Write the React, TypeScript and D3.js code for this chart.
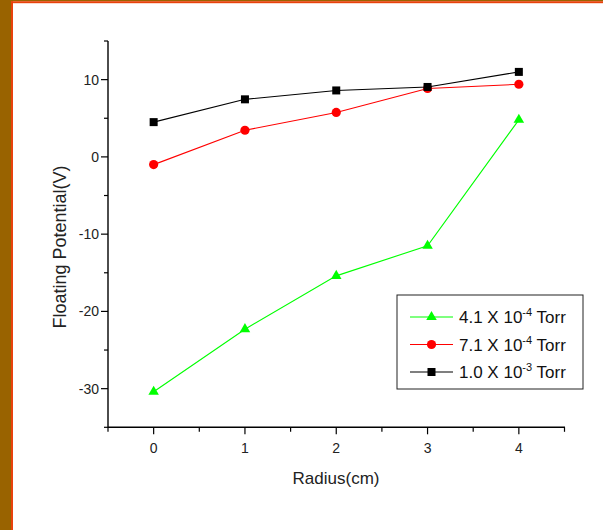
import React from "react";
import * as d3 from "d3";

// radius positions (cm)
const radius = [0, 1, 2, 3, 4];

// floating potential (V) for each pressure
const lowPressure = [-30.4, -22.3, -15.4, -11.5, 4.8]; // 4.1 x 10^-4 Torr
const midPressure = [-1.0, 3.45, 5.75, 8.85, 9.4]; // 7.1 x 10^-4 Torr
const highPressure = [4.5, 7.45, 8.6, 9.05, 11.0]; // 1.0 x 10^-3 Torr

const xTicks = [0, 1, 2, 3, 4];
const xMinorTicks = [-0.5, 0.5, 1.5, 2.5, 3.5, 4.5];
const yTicks = [-30, -20, -10, 0, 10];
const yMinorTicks = [-35, -25, -15, -5, 5, 15];

const series = [
    {mantissa: "4.1", exp: "-4", values: lowPressure, color: "#00ff00", marker: "triangle"},
    {mantissa: "7.1", exp: "-4", values: midPressure, color: "#ff0000", marker: "circle"},
    {mantissa: "1.0", exp: "-3", values: highPressure, color: "#000000", marker: "square"},
];

const W = 603;
const H = 530;
const font = "'Liberation Sans', Arial, sans-serif";

function Marker({kind, x, y, color}: {kind: string; x: number; y: number; color: string})
{
    if (kind === "circle") return <circle cx={x} cy={y} r={4.6} fill={color}/>;
    if (kind === "square") return <rect x={x - 4} y={y - 4} width={8} height={8} fill={color}/>;
    const sym = d3.symbol().type(d3.symbolTriangle).size(48)();
    return <path d={sym || ""} transform={`translate(${x},${y})`} fill={color}/>;
}

export default function App()
{
    const xScale = d3.scaleLinear().domain([-0.5, 4.5]).range([108, 564.5]);
    const yScale = d3.scaleLinear().domain([-35, 15]).range([427.3, 41]);
    const x0 = xScale(-0.5);
    const y0 = yScale(-35);

    const line = d3.line<number>()
        .x((_, i) => xScale(radius[i]))
        .y((d) => yScale(d));

    const legendX = 397;
    const legendY = 295;
    const rowGap = 27.5;

    return (
        <svg width={W} height={H} style={{position: "absolute", left: 0, top: 0}} fontFamily={font}>
            <rect x={0} y={0} width={W} height={H} fill="#ffffff"/>
            {/* frame */}
            <rect x={0} y={0} width={11} height={H} fill="#996300"/>
            <rect x={0} y={0} width={W} height={1.2} fill="#996300"/>
            <rect x={11} y={1.2} width={2} height={H} fill="#e8420c"/>
            <rect x={11} y={1.2} width={W - 11} height={2} fill="#e8420c"/>

            {/* axes */}
            <line x1={x0} x2={xScale(4.5) + 0.5} y1={y0} y2={y0} stroke="#000" strokeWidth={1.4}/>
            <line x1={x0} x2={x0} y1={yScale(15)} y2={y0 + 0.5} stroke="#000" strokeWidth={1.4}/>
            {xTicks.map((t) => (
                <g key={"xt" + t}>
                    <line x1={xScale(t)} x2={xScale(t)} y1={y0} y2={y0 + 7} stroke="#000" strokeWidth={1.2}/>
                    <text x={xScale(t)} y={453} textAnchor="middle" fontSize={14} fill="#222">{t}</text>
                </g>
            ))}
            {xMinorTicks.map((t) => (
                <line key={"xm" + t} x1={xScale(t)} x2={xScale(t)} y1={y0} y2={y0 + 4.5} stroke="#000" strokeWidth={1.2}/>
            ))}
            {yTicks.map((t) => (
                <g key={"yt" + t}>
                    <line x1={x0 - 7} x2={x0} y1={yScale(t)} y2={yScale(t)} stroke="#000" strokeWidth={1.2}/>
                    <text x={99} y={yScale(t) + 5} textAnchor="end" fontSize={14} fill="#222">{t}</text>
                </g>
            ))}
            {yMinorTicks.map((t) => (
                <line key={"ym" + t} x1={x0 - 4} x2={x0} y1={yScale(t)} y2={yScale(t)} stroke="#000" strokeWidth={1.2}/>
            ))}

            <text x={336} y={483.5} textAnchor="middle" fontSize={17} fill="#222">Radius(cm)</text>
            <text transform="translate(66,247) rotate(-90)" textAnchor="middle" fontSize={18} fill="#222">
                Floating Potential(V)
            </text>

            {/* series */}
            {series.map((s) => (
                <g key={s.mantissa + s.exp}>
                    <path d={line(s.values) || ""} fill="none" stroke={s.color} strokeWidth={1.1}/>
                    {s.values.map((v, i) => (
                        <Marker key={i} kind={s.marker} x={xScale(radius[i])} y={yScale(v)} color={s.color}/>
                    ))}
                </g>
            ))}

            {/* legend */}
            <rect x={legendX} y={legendY} width={186} height={94} fill="#fff" stroke="#222" strokeWidth={1}/>
            {series.map((s, i) => {
                const cy = legendY + 22 + i * rowGap;
                return (
                    <g key={"lg" + i}>
                        <line x1={410} x2={453} y1={cy} y2={cy} stroke={s.color} strokeWidth={1.2}/>
                        <Marker kind={s.marker} x={431.5} y={cy} color={s.color}/>
                        <text x={459} y={cy + 6} fontSize={17} fill="#111">
                            {s.mantissa} X 10
                            <tspan dy={-7} fontSize={11}>{s.exp}</tspan>
                            <tspan dy={7}> Torr</tspan>
                        </text>
                    </g>
                );
            })}
        </svg>
    );
}
